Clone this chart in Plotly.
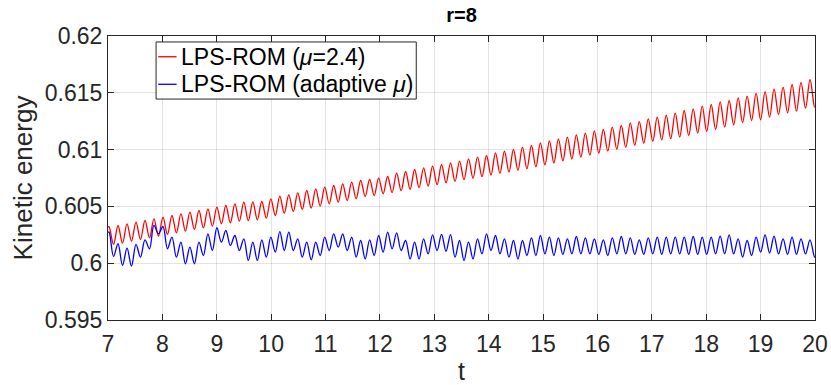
import plotly.graph_objects as go

# Times of the successive maxima / minima of the oscillation (shared by both runs)
t_ext = [
    7.019, 7.102, 7.184, 7.267, 7.350, 7.432, 7.515, 7.597, 7.680, 7.763,
    7.845, 7.928, 8.011, 8.093, 8.176, 8.258, 8.341, 8.424, 8.506, 8.589,
    8.672, 8.754, 8.837, 8.919, 9.002, 9.085, 9.167, 9.250, 9.333, 9.415,
    9.498, 9.580, 9.663, 9.746, 9.828, 9.911, 9.994, 10.076, 10.159, 10.241,
    10.324, 10.407, 10.489, 10.572, 10.654, 10.737, 10.820, 10.902, 10.985, 11.068,
    11.150, 11.233, 11.316, 11.398, 11.481, 11.563, 11.646, 11.729, 11.811, 11.894,
    11.977, 12.059, 12.142, 12.224, 12.307, 12.390, 12.472, 12.555, 12.638, 12.720,
    12.803, 12.886, 12.968, 13.051, 13.133, 13.216, 13.298, 13.381, 13.464, 13.546,
    13.629, 13.712, 13.794, 13.877, 13.960, 14.042, 14.125, 14.207, 14.290, 14.373,
    14.455, 14.538, 14.621, 14.703, 14.786, 14.868, 14.951, 15.034, 15.116, 15.199,
    15.282, 15.364, 15.447, 15.529, 15.612, 15.695, 15.777, 15.860, 15.943, 16.025,
    16.108, 16.190, 16.273, 16.356, 16.438, 16.521, 16.604, 16.686, 16.769, 16.851,
    16.934, 17.017, 17.099, 17.182, 17.265, 17.347, 17.430, 17.512, 17.595, 17.678,
    17.760, 17.843, 17.926, 18.008, 18.091, 18.173, 18.256, 18.339, 18.421, 18.504,
    18.587, 18.669, 18.752, 18.834, 18.917, 19.000, 19.082, 19.165, 19.247, 19.330,
    19.413, 19.495, 19.578, 19.660, 19.743, 19.826, 19.908, 19.991,
]
t_start, t_end = 7.0, 20.0

# LPS-ROM (mu = 2.4): kinetic energy at the maxima and minima
red_start, red_end = 0.60318, 0.61378
red_peaks = [
    0.60322,
    0.60332, 0.60347, 0.60361, 0.60376, 0.60391, 0.60405, 0.60420, 0.60435,
    0.60449, 0.60464, 0.60479, 0.60493, 0.60508, 0.60523, 0.60537,
    0.60540,
    0.60543, 0.60567, 0.60590, 0.60602, 0.60619, 0.60640, 0.60655, 0.60669,
    0.60684, 0.60699, 0.60713, 0.60728, 0.60737, 0.60749, 0.60763,
    0.60793, 0.60807, 0.60825, 0.60840, 0.60854, 0.60869, 0.60884, 0.60898,
    0.60919, 0.60933, 0.60948, 0.60972, 0.60986, 0.61001, 0.61021,
    0.61036, 0.61060, 0.61077, 0.61095, 0.61109, 0.61130, 0.61145, 0.61165,
    0.61177, 0.61197, 0.61212, 0.61236, 0.61247, 0.61271, 0.61285,
    0.61303, 0.61321, 0.61344, 0.61356, 0.61382, 0.61397, 0.61420, 0.61432,
    0.61456, 0.61470, 0.61497, 0.61511, 0.61535, 0.61550, 0.61573, 0.61591,
    0.61617,
]
red_troughs = [
    0.60165, 0.60176, 0.60194, 0.60209, 0.60223, 0.60238, 0.60253, 0.60267,
    0.60282, 0.60297, 0.60311, 0.60326, 0.60347, 0.60355, 0.60370, 0.60375,
    0.60382, 0.60396, 0.60420, 0.60440, 0.60455, 0.60473, 0.60484, 0.60502,
    0.60523, 0.60537, 0.60552, 0.60567, 0.60587, 0.60596, 0.60611,
    0.60622, 0.60638, 0.60650, 0.60665, 0.60678, 0.60692, 0.60707, 0.60720,
    0.60735, 0.60748, 0.60762, 0.60776, 0.60790, 0.60803, 0.60817,
    0.60831, 0.60848, 0.60865, 0.60882, 0.60900, 0.60917, 0.60934, 0.60951,
    0.60968, 0.60986, 0.61003, 0.61020, 0.61037, 0.61055, 0.61072, 0.61085,
    0.61096, 0.61109, 0.61124, 0.61145, 0.61159, 0.61177, 0.61197, 0.61218,
    0.61236, 0.61256, 0.61262, 0.61285, 0.61309, 0.61324, 0.61338, 0.61365,
    0.61376,
]

# LPS-ROM (adaptive mu): kinetic energy at the maxima and minima
blue_start, blue_end = 0.60270, 0.60058
blue_peaks = [
    0.60275, 0.60171, 0.60132, 0.60165, 0.60206, 0.60332, 0.60323, 0.60229,
    0.60185, 0.60141, 0.60185, 0.60259, 0.60312, 0.60288, 0.60244, 0.60215,
    0.60185, 0.60206, 0.60229, 0.60278, 0.60273, 0.60215, 0.60185, 0.60185,
    0.60229, 0.60259, 0.60259, 0.60229, 0.60200, 0.60206, 0.60244, 0.60273,
    0.60267, 0.60200, 0.60185, 0.60215, 0.60250, 0.60254, 0.60252, 0.60200,
    0.60185, 0.60215, 0.60259, 0.60244, 0.60215, 0.60200, 0.60200, 0.60223,
    0.60244, 0.60229, 0.60223, 0.60215, 0.60235, 0.60223, 0.60215, 0.60206,
    0.60223, 0.60235, 0.60223, 0.60206, 0.60223, 0.60229, 0.60229, 0.60229,
    0.60229, 0.60235, 0.60229, 0.60229, 0.60238, 0.60250, 0.60215, 0.60200,
    0.60229, 0.60250, 0.60238, 0.60215, 0.60229, 0.60215, 0.60206,
]
blue_troughs = [
    0.60059, 0.59980, 0.59974, 0.60053, 0.60127, 0.60259, 0.60127, 0.60053,
    0.59995, 0.59995, 0.60068, 0.60112, 0.60185, 0.60156, 0.60112, 0.60024,
    0.60024, 0.60053, 0.60097, 0.60112, 0.60112, 0.60053, 0.60030, 0.60068,
    0.60112, 0.60141, 0.60112, 0.60053, 0.60038, 0.60068, 0.60097, 0.60126,
    0.60112, 0.60038, 0.60038, 0.60082, 0.60112, 0.60105, 0.60053, 0.60024,
    0.60038, 0.60082, 0.60112, 0.60082, 0.60053, 0.60038, 0.60068, 0.60068,
    0.60082, 0.60068, 0.60077, 0.60082, 0.60082, 0.60082, 0.60077, 0.60068,
    0.60082, 0.60082, 0.60077, 0.60077, 0.60082, 0.60077, 0.60082, 0.60082,
    0.60077, 0.60077, 0.60077, 0.60082, 0.60082, 0.60082, 0.60053, 0.60068,
    0.60097, 0.60090, 0.60082, 0.60077, 0.60077, 0.60082, 0.60053,
]

x_ticks = [7, 8, 9, 10, 11, 12, 13, 14, 15, 16, 17, 18, 19, 20]
y_ticks = [0.595, 0.6, 0.605, 0.61, 0.615, 0.62]
y_tick_labels = ["0.595", "0.6", "0.605", "0.61", "0.615", "0.62"]

series_names = ["LPS-ROM (<i>μ</i>=2.4)", "LPS-ROM (adaptive <i>μ</i>)"]
series_colors = ["#ff0000", "#0000ff"]


def interleave(peaks, troughs):
    out = []
    for p, q in zip(peaks, troughs):
        out.extend([p, q])
    return out


x_all = [t_start] + t_ext + [t_end]
red_y = [red_start] + interleave(red_peaks, red_troughs) + [red_end]
blue_y = [blue_start] + interleave(blue_peaks, blue_troughs) + [blue_end]

FONT = "Liberation Sans, Arial, Helvetica, sans-serif"
INK = "#262626"
GRID = "rgba(38,38,38,0.13)"

fig = go.Figure()
for name, color, ys in zip(series_names, series_colors, [red_y, blue_y]):
    fig.add_trace(go.Scatter(
        x=x_all, y=ys, mode="lines", name=name, showlegend=False,
        line=dict(color=color, width=1.3, shape="spline", smoothing=1.0),
    ))

# Boxed legend in the upper-left corner of the axes (paper coordinates)
box_x0, box_x1, box_y0, box_y1 = 0.068, 0.436, 0.778, 0.979
key_x0, key_x1, label_x = 0.071, 0.097, 0.101
row_y = [0.927, 0.830]
fig.add_shape(type="rect", xref="paper", yref="paper",
              x0=box_x0, x1=box_x1, y0=box_y0, y1=box_y1,
              line=dict(color=INK, width=1), fillcolor="white", layer="above")
for name, color, yy in zip(series_names, series_colors, row_y):
    fig.add_shape(type="line", xref="paper", yref="paper",
                  x0=key_x0, x1=key_x1, y0=yy, y1=yy,
                  line=dict(color=color, width=1.3), layer="above")
    fig.add_annotation(xref="paper", yref="paper", x=label_x, y=yy,
                       xanchor="left", yanchor="middle", showarrow=False,
                       text=name, font=dict(family=FONT, size=23, color="#000000"))

axis_common = dict(
    showline=True, linecolor=INK, linewidth=1, mirror="ticks",
    ticks="inside", ticklen=6, tickcolor=INK, tickwidth=1,
    showgrid=True, gridcolor=GRID, gridwidth=1, zeroline=False,
    automargin=False,
    tickfont=dict(family=FONT, size=23, color=INK),
)

fig.update_layout(
    width=831, height=385,
    margin=dict(l=108, r=16, t=36, b=65),
    paper_bgcolor="white", plot_bgcolor="white",
    title=dict(text="<b>r=8</b>", x=0.5555, xanchor="center", y=0.962, yanchor="middle",
               font=dict(family=FONT, size=20, color="#000000")),
    xaxis=dict(range=[7, 20], tickvals=x_ticks, ticklabelstandoff=3,
               title=dict(text="t", font=dict(family=FONT, size=25, color=INK), standoff=9),
               **axis_common),
    yaxis=dict(range=[0.595, 0.62], tickvals=y_ticks, ticktext=y_tick_labels,
               title=dict(text="Kinetic energy", font=dict(family=FONT, size=26, color=INK), standoff=4),
               **axis_common),
    showlegend=False,
)

fig.write_html("out.html")
